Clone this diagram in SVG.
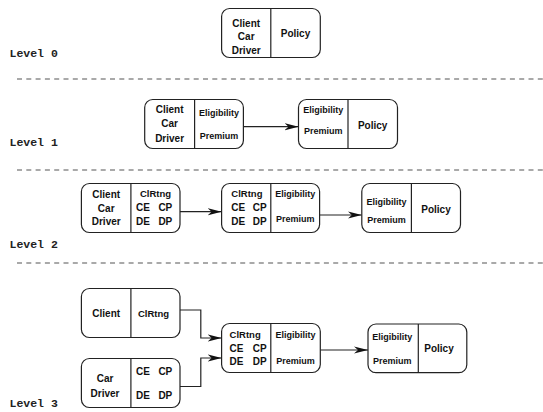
<svg xmlns="http://www.w3.org/2000/svg" width="543" height="412" viewBox="0 0 543 412">
<defs>
<style>
.box{fill:#fff;stroke:#222;stroke-width:1.2}
.div{stroke:#222;stroke-width:1.2}
.t{font-family:"Liberation Sans",Arial,sans-serif;font-weight:bold;font-size:10px;fill:#111;text-anchor:middle}
.s{font-size:9px}
.c{font-size:9.5px}
.l{text-anchor:start}
.r{text-anchor:end}
.lvl{font-family:"Liberation Mono","Courier New",monospace;font-weight:bold;font-size:11.5px;fill:#222}
.dash{stroke:#555;stroke-width:1.2;stroke-dasharray:5,4.3;fill:none}
.con{stroke:#222;stroke-width:1.2;fill:none;marker-end:url(#ah)}
</style>
<marker id="ah" markerUnits="userSpaceOnUse" markerWidth="14" markerHeight="8" viewBox="0 0 14 8" refX="14" refY="4" orient="auto">
<path d="M0,0.4 L14,4 L0,7.6 L4,4 Z" fill="#111"/>
</marker>
</defs>
<rect width="543" height="412" fill="#fff"/>

<g id="separators">
<line class="dash" x1="17" y1="79" x2="543" y2="79"/>
<line class="dash" x1="17" y1="170" x2="543" y2="170"/>
<line class="dash" x1="17" y1="263" x2="543" y2="263"/>
</g>

<g id="labels">
<text class="lvl" x="9.5" y="57">Level 0</text>
<text class="lvl" x="9.5" y="145.5">Level 1</text>
<text class="lvl" x="9.5" y="247.5">Level 2</text>
<text class="lvl" x="9.5" y="407">Level 3</text>
</g>

<g id="connectors">
<line class="con" x1="243.4" y1="126.7" x2="298.5" y2="126.7"/>
<line class="con" x1="180" y1="211.7" x2="221.6" y2="211.7"/>
<line class="con" x1="319.6" y1="215" x2="361.8" y2="215"/>
<polyline class="con" points="180,310 200.8,310 200.8,338 221.6,338"/>
<polyline class="con" points="180,386.5 200.8,386.5 200.8,358 221.6,358"/>
<line class="con" x1="320.3" y1="350" x2="368" y2="350"/>
</g>

<g id="n0">
<rect class="box" x="221.6" y="8.5" width="98.7" height="49" rx="8"/>
<line class="div" x1="270.8" y1="8.5" x2="270.8" y2="57.5"/>
<text class="t" x="246.2" y="26.5">Client</text>
<text class="t" x="246.2" y="40.3">Car</text>
<text class="t" x="246.2" y="54">Driver</text>
<text class="t" x="295.5" y="36.5">Policy</text>
</g>

<g id="n1a">
<rect class="box" x="144.7" y="99.5" width="98.7" height="49" rx="8"/>
<line class="div" x1="194.6" y1="99.5" x2="194.6" y2="148.5"/>
<text class="t" x="169.6" y="113">Client</text>
<text class="t" x="169.6" y="127.3">Car</text>
<text class="t" x="169.6" y="141.5">Driver</text>
<text class="t s" x="219" y="116.3">Eligibility</text>
<text class="t s" x="219" y="138.5">Premium</text>
</g>

<g id="n1b">
<rect class="box" x="298.5" y="99.5" width="99" height="49" rx="8"/>
<line class="div" x1="348" y1="99.5" x2="348" y2="148.5"/>
<text class="t s" x="323.3" y="113.3">Eligibility</text>
<text class="t s" x="323.3" y="134.2">Premium</text>
<text class="t" x="372.7" y="129">Policy</text>
</g>

<g id="n2a">
<rect class="box" x="81.4" y="183.5" width="98.6" height="49" rx="8"/>
<line class="div" x1="130.9" y1="183.5" x2="130.9" y2="232.5"/>
<text class="t" x="106.2" y="197.5">Client</text>
<text class="t" x="106.2" y="211.5">Car</text>
<text class="t" x="106.2" y="225">Driver</text>
<text class="t c" x="155.5" y="196.8">ClRtng</text>
<text class="t l" x="136.1" y="210.8">CE</text>
<text class="t r" x="172.3" y="210.8">CP</text>
<text class="t l" x="136.1" y="225">DE</text>
<text class="t r" x="172.3" y="225">DP</text>
</g>

<g id="n2b">
<rect class="box" x="221.6" y="183.5" width="98" height="49" rx="8"/>
<line class="div" x1="270.8" y1="183.5" x2="270.8" y2="232.5"/>
<text class="t c" x="246.9" y="196.8">ClRtng</text>
<text class="t l" x="231.3" y="210.8">CE</text>
<text class="t r" x="266.6" y="210.8">CP</text>
<text class="t l" x="231.3" y="225">DE</text>
<text class="t r" x="266.6" y="225">DP</text>
<text class="t s" x="295.2" y="197.2">Eligibility</text>
<text class="t s" x="295.2" y="221.7">Premium</text>
</g>

<g id="n2c">
<rect class="box" x="361.8" y="183.5" width="98.7" height="49" rx="8"/>
<line class="div" x1="411.4" y1="183.5" x2="411.4" y2="232.5"/>
<text class="t s" x="386.6" y="205.3">Eligibility</text>
<text class="t s" x="386.6" y="222.7">Premium</text>
<text class="t" x="436" y="212.7">Policy</text>
</g>

<g id="n3a">
<rect class="box" x="81.4" y="288.5" width="98.6" height="49" rx="8"/>
<line class="div" x1="130.9" y1="288.5" x2="130.9" y2="337.5"/>
<text class="t" x="106.2" y="316.7">Client</text>
<text class="t c" x="153.5" y="316.7">ClRtng</text>
</g>

<g id="n3b">
<rect class="box" x="81.4" y="358.5" width="98.6" height="49" rx="8"/>
<line class="div" x1="130.9" y1="358.5" x2="130.9" y2="407.5"/>
<text class="t" x="105" y="382.3">Car</text>
<text class="t" x="105" y="396.7">Driver</text>
<text class="t l" x="136.1" y="375">CE</text>
<text class="t r" x="172.3" y="375">CP</text>
<text class="t l" x="136.1" y="399">DE</text>
<text class="t r" x="172.3" y="399">DP</text>
</g>

<g id="n3c">
<rect class="box" x="221.6" y="323.5" width="98.7" height="49" rx="8"/>
<line class="div" x1="270.8" y1="323.5" x2="270.8" y2="372.5"/>
<text class="t c l" x="229.6" y="338.3">ClRtng</text>
<text class="t l" x="229.6" y="351.7">CE</text>
<text class="t l" x="252.8" y="351.7">CP</text>
<text class="t l" x="229.6" y="365">DE</text>
<text class="t l" x="252.8" y="365">DP</text>
<text class="t s" x="295.5" y="337.7">Eligibility</text>
<text class="t s" x="295.5" y="364.3">Premium</text>
</g>

<g id="n3d">
<rect class="box" x="368" y="324" width="98.8" height="48.7" rx="8"/>
<line class="div" x1="418.3" y1="324" x2="418.3" y2="372.7"/>
<text class="t s" x="392.3" y="340">Eligibility</text>
<text class="t s" x="392.3" y="364">Premium</text>
<text class="t" x="439" y="352">Policy</text>
</g>
</svg>
